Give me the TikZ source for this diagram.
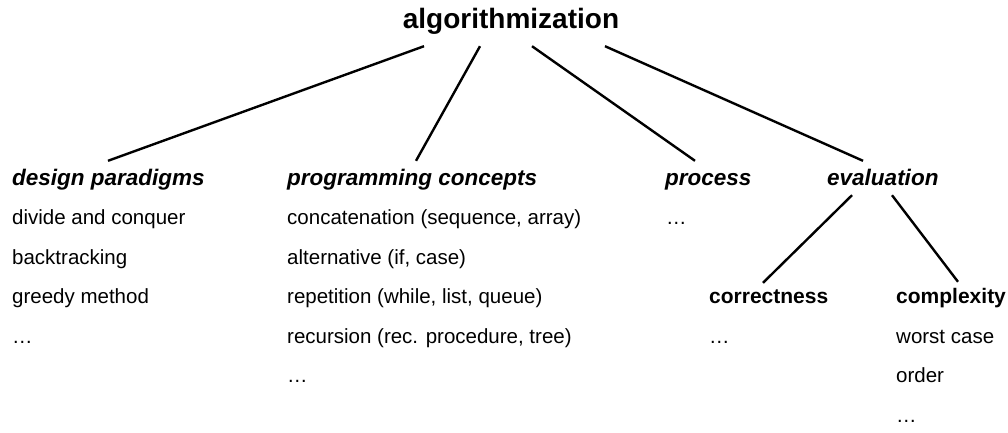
\documentclass[tikz,border=0pt]{standalone}
\usepackage{fontspec}
\setmainfont{Liberation Sans}
\begin{document}
\begin{tikzpicture}[x=1pt,y=1pt,
  toptitle/.style={font=\fontsize{28}{32}\selectfont\bfseries, anchor=base, inner sep=0pt,
    text height=20pt, text depth=6pt},
  head/.style={font=\fontsize{22.5}{27}\selectfont\bfseries\itshape, anchor=base west, inner sep=0pt,
    text height=16pt, text depth=5pt},
  subhead/.style={font=\fontsize{21}{25}\selectfont\bfseries, anchor=base west, inner sep=0pt,
    text height=15pt, text depth=4pt},
  entry/.style={font=\fontsize{20.5}{24}\selectfont, anchor=base west, inner sep=0pt},
  link/.style={line width=2.4pt}]
\useasboundingbox[fill=white] (0,0) rectangle (1008,-432);

% root
\node[toptitle] (title) at (511,-28) {algorithmization};

% first level
\node[head] (design) at (12,-185)  {design paradigms};
\node[head] (prog)   at (287,-185) {programming concepts};
\node[head] (proc)   at (665,-185) {process};
\node[head] (eval)   at (827,-185) {evaluation};

% design paradigms
\node[entry] (d1) at (12,-224.5) {divide and conquer};
\node[entry] (d2) at (12,-264)   {backtracking};
\node[entry] (d3) at (12,-303.5) {greedy method};
\node[entry] (d4) at (12,-343)   {…};

% programming concepts
\node[entry] (p1) at (287,-224.5) {concatenation (sequence, array)};
\node[entry] (p2) at (287,-264)   {alternative (if, case)};
\node[entry] (p3) at (287,-303.5) {repetition (while, list, queue)};
\node[entry] (p4) at (287,-343)   {recursion (rec. procedure, tree)};
\node[entry] (p5) at (287,-382.5) {…};

% process
\node[entry] (r1) at (666,-224.5) {…};

% evaluation subtree
\node[subhead] (corr) at (709,-303) {correctness};
\node[subhead] (cplx) at (896,-303) {complexity};
\node[entry] (c1) at (709,-343)   {…};
\node[entry] (x1) at (896,-343)   {worst case};
\node[entry] (x2) at (896,-382.5) {order};
\node[entry] (x3) at (896,-422)   {…};

% connectors
\draw[link] ([shift={(-87,-12)}]title.south) -- ([shift={(96,8)}]design.north west);
\draw[link] ([shift={(-31,-12)}]title.south) -- ([shift={(129,8)}]prog.north west);
\draw[link] ([shift={(21,-12)}]title.south)  -- ([shift={(30,8)}]proc.north west);
\draw[link] ([shift={(94,-12)}]title.south)  -- ([shift={(36,8)}]eval.north west);
\draw[link] ([shift={(25,-5)}]eval.south west) -- ([shift={(54,5)}]corr.north west);
\draw[link] ([shift={(65,-5)}]eval.south west) -- ([shift={(62,6)}]cplx.north west);
\end{tikzpicture}
\end{document}
